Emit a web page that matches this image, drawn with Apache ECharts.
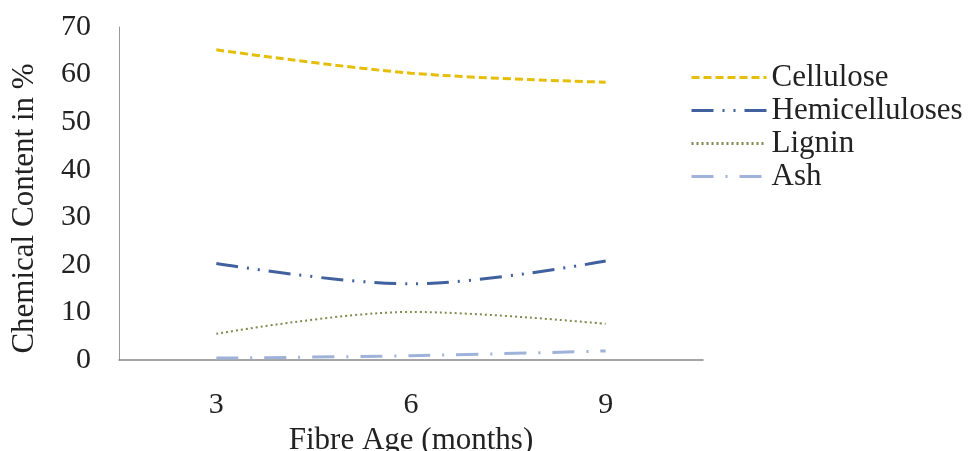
<!DOCTYPE html>
<html><head><meta charset="utf-8">
<script src="https://cdn.jsdelivr.net/npm/echarts@6/dist/echarts.min.js"></script>
<style>html,body{margin:0;padding:0;background:#fff}#c{width:969px;height:451px}</style>
</head><body><div id="c"></div>
<script>
const categories = ['3', '6', '9'];
const cellulose = [65.2, 60.3, 58.4];
const hemicelluloses = [20.3, 16.0, 20.8];
const lignin = [5.5, 10.1, 7.6];
const ash = [0.4, 0.9, 1.9];
const yTicks = [0, 10, 20, 30, 40, 50, 60, 70];

const font = "'Liberation Serif', 'Times New Roman', serif";
const chart = echarts.init(document.getElementById('c'));
function mk(name, data, color, width, dash) {
  return {
    name, type: 'line', data, smooth: 0.35, symbol: 'none',
    lineStyle: { color, width, type: dash, cap: 'butt' },
    itemStyle: { color }
  };
}
chart.setOption({
  animation: false,
  grid: { left: 119, right: 266, top: 27, bottom: 91, outerBoundsMode: 'none', containLabel: false },
  legend: {
    orient: 'vertical', left: 685, top: 57, itemGap: 2,
    itemWidth: 75, itemHeight: 14,
    itemStyle: { opacity: 0 },
    lineStyle: { width: 3 },
    textStyle: { fontFamily: font, fontSize: 31, color: '#222', lineHeight: 31 },
    data: ['Cellulose', 'Hemicelluloses', 'Lignin', 'Ash']
  },
  xAxis: {
    type: 'category', data: categories, boundaryGap: true,
    name: 'Fibre Age (months)', nameLocation: 'middle', nameGap: 62,
    nameTextStyle: { fontFamily: font, fontSize: 31, color: '#222' },
    axisLine: { lineStyle: { color: '#888', width: 1.5 } },
    axisTick: { show: false },
    axisLabel: { fontFamily: font, fontSize: 30, color: '#222', margin: 30 }
  },
  yAxis: {
    type: 'value', min: yTicks[0], max: yTicks[yTicks.length - 1], interval: 10,
    name: 'Chemical Content in %', nameLocation: 'middle', nameGap: 79,
    nameTextStyle: { fontFamily: font, fontSize: 31, color: '#222', padding: [0, 30, 0, 0] },
    axisLine: { show: true, lineStyle: { color: '#999', width: 1 } },
    axisTick: { show: false },
    splitLine: { show: false },
    axisLabel: { fontFamily: font, fontSize: 30, color: '#222', margin: 28 }
  },
  series: [
    mk('Cellulose', cellulose, '#E6BE0A', 3, [8, 4]),
    mk('Hemicelluloses', hemicelluloses, '#41609E', 3, [22, 9, 2, 9, 2, 9]),
    mk('Lignin', lignin, '#7E8C50', 2, [2, 3]),
    mk('Ash', ash, '#9FB3DA', 3, [22, 12, 2, 12])
  ]
});
</script></body></html>
